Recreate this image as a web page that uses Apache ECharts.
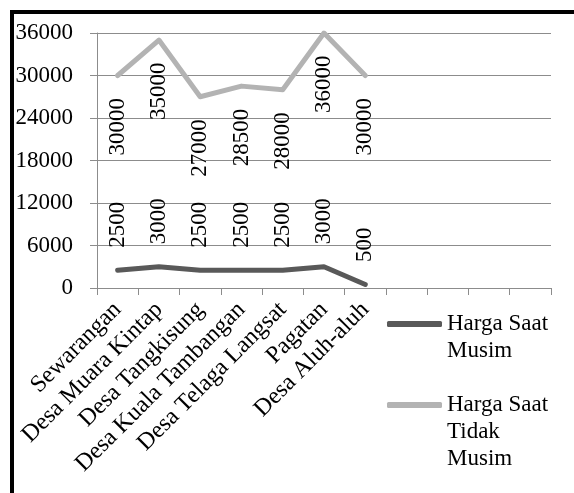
<!DOCTYPE html>
<html>
<head>
<meta charset="utf-8">
<style>
  html, body { margin: 0; padding: 0; background: #fff; }
  #chart { width: 574px; height: 493px; }
</style>
<script src="https://cdn.jsdelivr.net/npm/echarts@6/dist/echarts.min.js"></script>
</head>
<body>
<div id="chart"></div>
<script>
// Desa / lokasi, with the extra empty slots the axis reserves
const categories = [
  'Sewarangan', 'Desa Muara Kintap', 'Desa Tangkisung', 'Desa Kuala Tambangan',
  'Desa Telaga Langsat', 'Pagatan', 'Desa Aluh-aluh', '', '', '', ''
];
const seriesNames = ['Harga Saat Musim', 'Harga Saat Tidak Musim'];
// legend text, one entry per line
const legendLines = [['Harga Saat', 'Musim'], ['Harga Saat', 'Tidak', 'Musim']];
const hargaMusim = [2500, 3000, 2500, 2500, 2500, 3000, 500];
const hargaTidakMusim = [30000, 35000, 27000, 28500, 28000, 36000, 30000];
const yTicks = { min: 0, max: 36000, interval: 6000 };

const FONT = '"Liberation Serif", "Times New Roman", serif';
const GRID_COLOR = '#8c8c8c';
const LINE_H = 27;

const chart = echarts.init(document.getElementById('chart'), null, { renderer: 'canvas' });

// Legend text is centred on its icon; leading blank lines put the
// first text line level with the icon instead.
function legendBlock(idx, iconCenterY) {
  const lines = legendLines[idx];
  const padded = new Array(lines.length - 1).fill('').concat(lines);
  const total = padded.length * LINE_H;
  return {
    orient: 'vertical',
    left: 387,
    top: iconCenterY - total / 2,
    padding: 0,
    data: [{ name: seriesNames[idx] }],
    formatter: () => padded.join('\n'),
    icon: 'roundRect',
    itemWidth: 55,
    itemHeight: 6,
    textStyle: {
      fontFamily: FONT,
      fontSize: 23,
      color: '#000',
      lineHeight: LINE_H
    }
  };
}

chart.setOption({
  backgroundColor: '#fff',
  animation: false,
  graphic: [{
    type: 'rect',
    shape: { x: 12, y: 12, width: 700, height: 700 },
    style: { fill: 'none', stroke: '#000', lineWidth: 4 },
    silent: true
  }],
  grid: { left: 97, right: 23, top: 33, bottom: 205 },
  legend: [legendBlock(0, 324), legendBlock(1, 405)],
  xAxis: {
    type: 'category',
    data: categories,
    boundaryGap: true,
    axisLine: { lineStyle: { color: GRID_COLOR, width: 1 } },
    axisTick: { show: true, length: 7, alignWithLabel: false, lineStyle: { color: GRID_COLOR } },
    axisLabel: {
      rotate: 45,
      margin: 18,
      interval: 0,
      fontFamily: FONT,
      fontSize: 24,
      color: '#000'
    },
    splitLine: { show: false }
  },
  yAxis: {
    type: 'value',
    min: yTicks.min,
    max: yTicks.max,
    interval: yTicks.interval,
    axisLine: { show: true, lineStyle: { color: GRID_COLOR, width: 1 } },
    axisTick: { show: true, length: 7, lineStyle: { color: GRID_COLOR } },
    axisLabel: {
      margin: 24,
      formatter: v => String(v),
      fontFamily: FONT,
      fontSize: 23,
      color: '#000'
    },
    splitLine: { show: true, lineStyle: { color: GRID_COLOR, width: 1 } }
  },
  series: [
    {
      name: seriesNames[0],
      type: 'line',
      data: hargaMusim,
      color: '#595959',
      symbol: 'circle',
      symbolSize: 1,
      lineStyle: { width: 5, cap: 'round', join: 'round' },
      label: {
        show: true,
        position: 'top',
        distance: 22,
        rotate: 90,
        align: 'left',
        verticalAlign: 'middle',
        fontFamily: FONT,
        fontSize: 23,
        color: '#000'
      }
    },
    {
      name: seriesNames[1],
      type: 'line',
      data: hargaTidakMusim,
      color: '#b3b3b3',
      symbol: 'circle',
      symbolSize: 1,
      lineStyle: { width: 5, cap: 'round', join: 'round' },
      label: {
        show: true,
        position: 'bottom',
        distance: 22,
        rotate: 90,
        align: 'right',
        verticalAlign: 'middle',
        fontFamily: FONT,
        fontSize: 23,
        color: '#000'
      }
    }
  ]
});
</script>
</body>
</html>
